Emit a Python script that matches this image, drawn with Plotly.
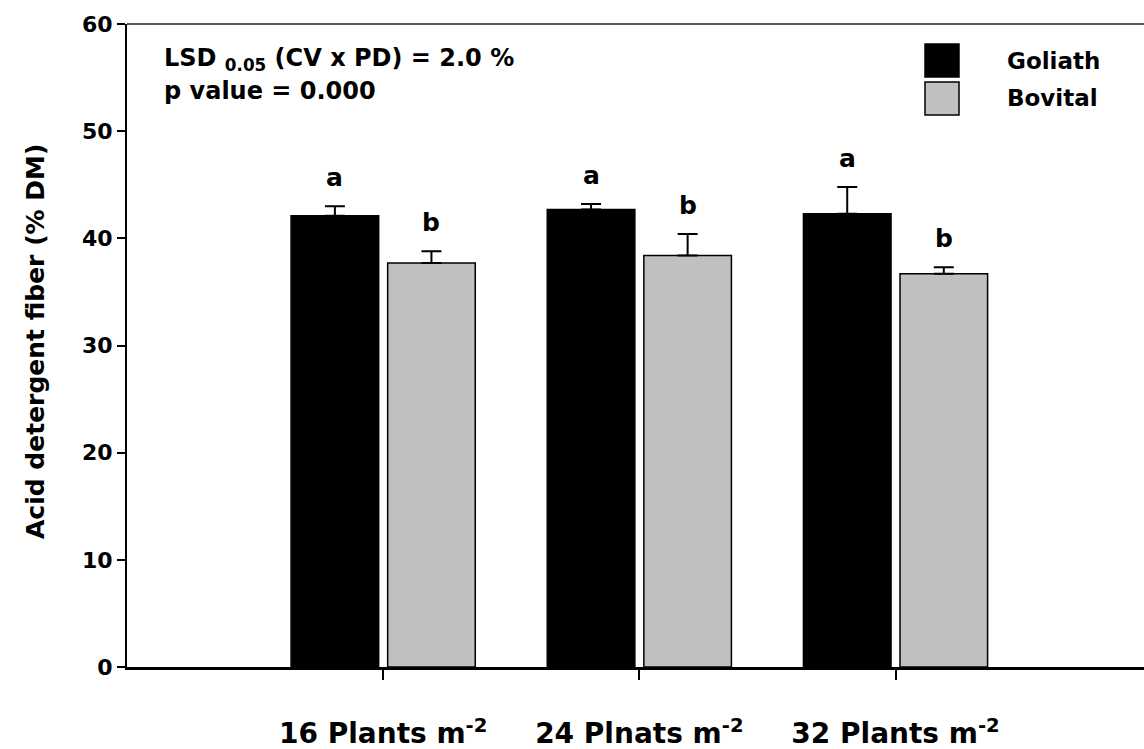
import plotly.graph_objects as go

# Planting densities (category axis) and cultivar means with upper standard errors
densities = ["16 Plants m<sup>-2</sup>", "24 Plnats m<sup>-2</sup>", "32 Plants m<sup>-2</sup>"]
goliath = [42.1, 42.7, 42.3]
goliath_err = [0.9, 0.5, 2.5]
bovital = [37.7, 38.4, 36.7]
bovital_err = [1.1, 2.0, 0.6]
goliath_letters = ["a", "a", "a"]
bovital_letters = ["b", "b", "b"]
y_ticks = [0, 10, 20, 30, 40, 50, 60]

FONT = "DejaVu Sans"
W, H = 1144, 749
ML, MR, MT, MB = 127, 0, 24, 82
BARGAP = 0.246
GROUPGAP = 0.093

x_pos = list(range(len(densities)))
slot = (1 - BARGAP) / 2  # width of each bar slot within a group, in axis units

fig = go.Figure()

fig.add_trace(go.Bar(
    name="Goliath", x=x_pos, y=goliath,
    marker=dict(color="#000000", line=dict(color="#000000", width=1.5)),
    error_y=dict(type="data", symmetric=False, array=goliath_err,
                 arrayminus=[0] * len(goliath_err),
                 color="#000000", thickness=2, width=10),
))
fig.add_trace(go.Bar(
    name="Bovital", x=x_pos, y=bovital,
    marker=dict(color="#c0c0c0", line=dict(color="#000000", width=1.5)),
    error_y=dict(type="data", symmetric=False, array=bovital_err,
                 arrayminus=[0] * len(bovital_err),
                 color="#000000", thickness=2, width=10),
))

annotations = []

# Significance letters above each error bar
for i in x_pos:
    for vals, errs, letters, shift in (
        (goliath, goliath_err, goliath_letters, -slot / 2),
        (bovital, bovital_err, bovital_letters, slot / 2),
    ):
        annotations.append(dict(
            x=i + shift, y=vals[i] + errs[i], xref="x", yref="y",
            text=letters[i], showarrow=False, yanchor="bottom", yshift=12,
            font=dict(family=FONT, size=25, color="black", weight="bold"),
        ))


def px_x(px):
    return (px - ML) / (W - ML - MR)


def px_y(py):
    return 1 - (py - MT) / (H - MT - MB)


# Statistics text
annotations.append(dict(
    x=px_x(162), y=px_y(59), xref="paper", yref="paper", xanchor="left", yanchor="middle",
    text="LSD <sub>0.05</sub> (CV x PD) = 2.0 %", showarrow=False,
    font=dict(family=FONT, size=24, color="black", weight="bold"),
))
annotations.append(dict(
    x=px_x(162), y=px_y(91), xref="paper", yref="paper", xanchor="left", yanchor="middle",
    text="p value = 0.000", showarrow=False,
    font=dict(family=FONT, size=24, color="black", weight="bold"),
))

# Legend labels
for label, cy in (("Goliath", 61), ("Bovital", 98)):
    annotations.append(dict(
        x=px_x(1005), y=px_y(cy), xref="paper", yref="paper", xanchor="left", yanchor="middle",
        text=label, showarrow=False,
        font=dict(family=FONT, size=23, color="black", weight="bold"),
    ))

# Y axis title
annotations.append(dict(
    x=px_x(35), y=px_y(342), xref="paper", yref="paper", xanchor="center", yanchor="middle",
    text="Acid detergent fiber (% DM)", textangle=-90, showarrow=False,
    font=dict(family=FONT, size=25, color="black", weight="bold"),
))

shapes = [
    # frame top line
    dict(type="line", xref="paper", yref="paper", x0=0, x1=1, y0=1, y1=1,
         line=dict(color="#222222", width=1.5)),
    # legend swatches
    dict(type="rect", xref="paper", yref="paper",
         x0=px_x(925), x1=px_x(959), y0=px_y(77), y1=px_y(44),
         fillcolor="#000000", line=dict(color="#000000", width=1.5)),
    dict(type="rect", xref="paper", yref="paper",
         x0=px_x(925), x1=px_x(959), y0=px_y(115), y1=px_y(82),
         fillcolor="#c0c0c0", line=dict(color="#000000", width=1.5)),
]

fig.update_layout(
    width=W, height=H,
    margin=dict(l=ML, r=MR, t=MT, b=MB, pad=0),
    paper_bgcolor="white", plot_bgcolor="white",
    barmode="group", bargap=BARGAP, bargroupgap=GROUPGAP,
    showlegend=False,
    font=dict(family=FONT, color="black", weight="bold"),
    annotations=annotations,
    shapes=shapes,
    xaxis=dict(
        range=[-1.0, 2.97], tickmode="array", tickvals=x_pos, ticktext=densities,
        showline=True, linecolor="black", linewidth=2.5,
        ticks="outside", ticklen=10, tickwidth=1.5, tickcolor="black",
        ticklabelstandoff=30,
        tickfont=dict(family=FONT, size=28, color="black", weight="bold"),
        showgrid=False, zeroline=False, automargin=False,
    ),
    yaxis=dict(
        range=[0, 60], tickmode="array", tickvals=y_ticks,
        showline=True, linecolor="black", linewidth=2,
        ticks="outside", ticklen=8, tickwidth=1.5, tickcolor="black",
        tickfont=dict(family=FONT, size=22, color="black", weight="bold"),
        showgrid=False, zeroline=False, automargin=False,
    ),
)

fig.write_html("out.html")
